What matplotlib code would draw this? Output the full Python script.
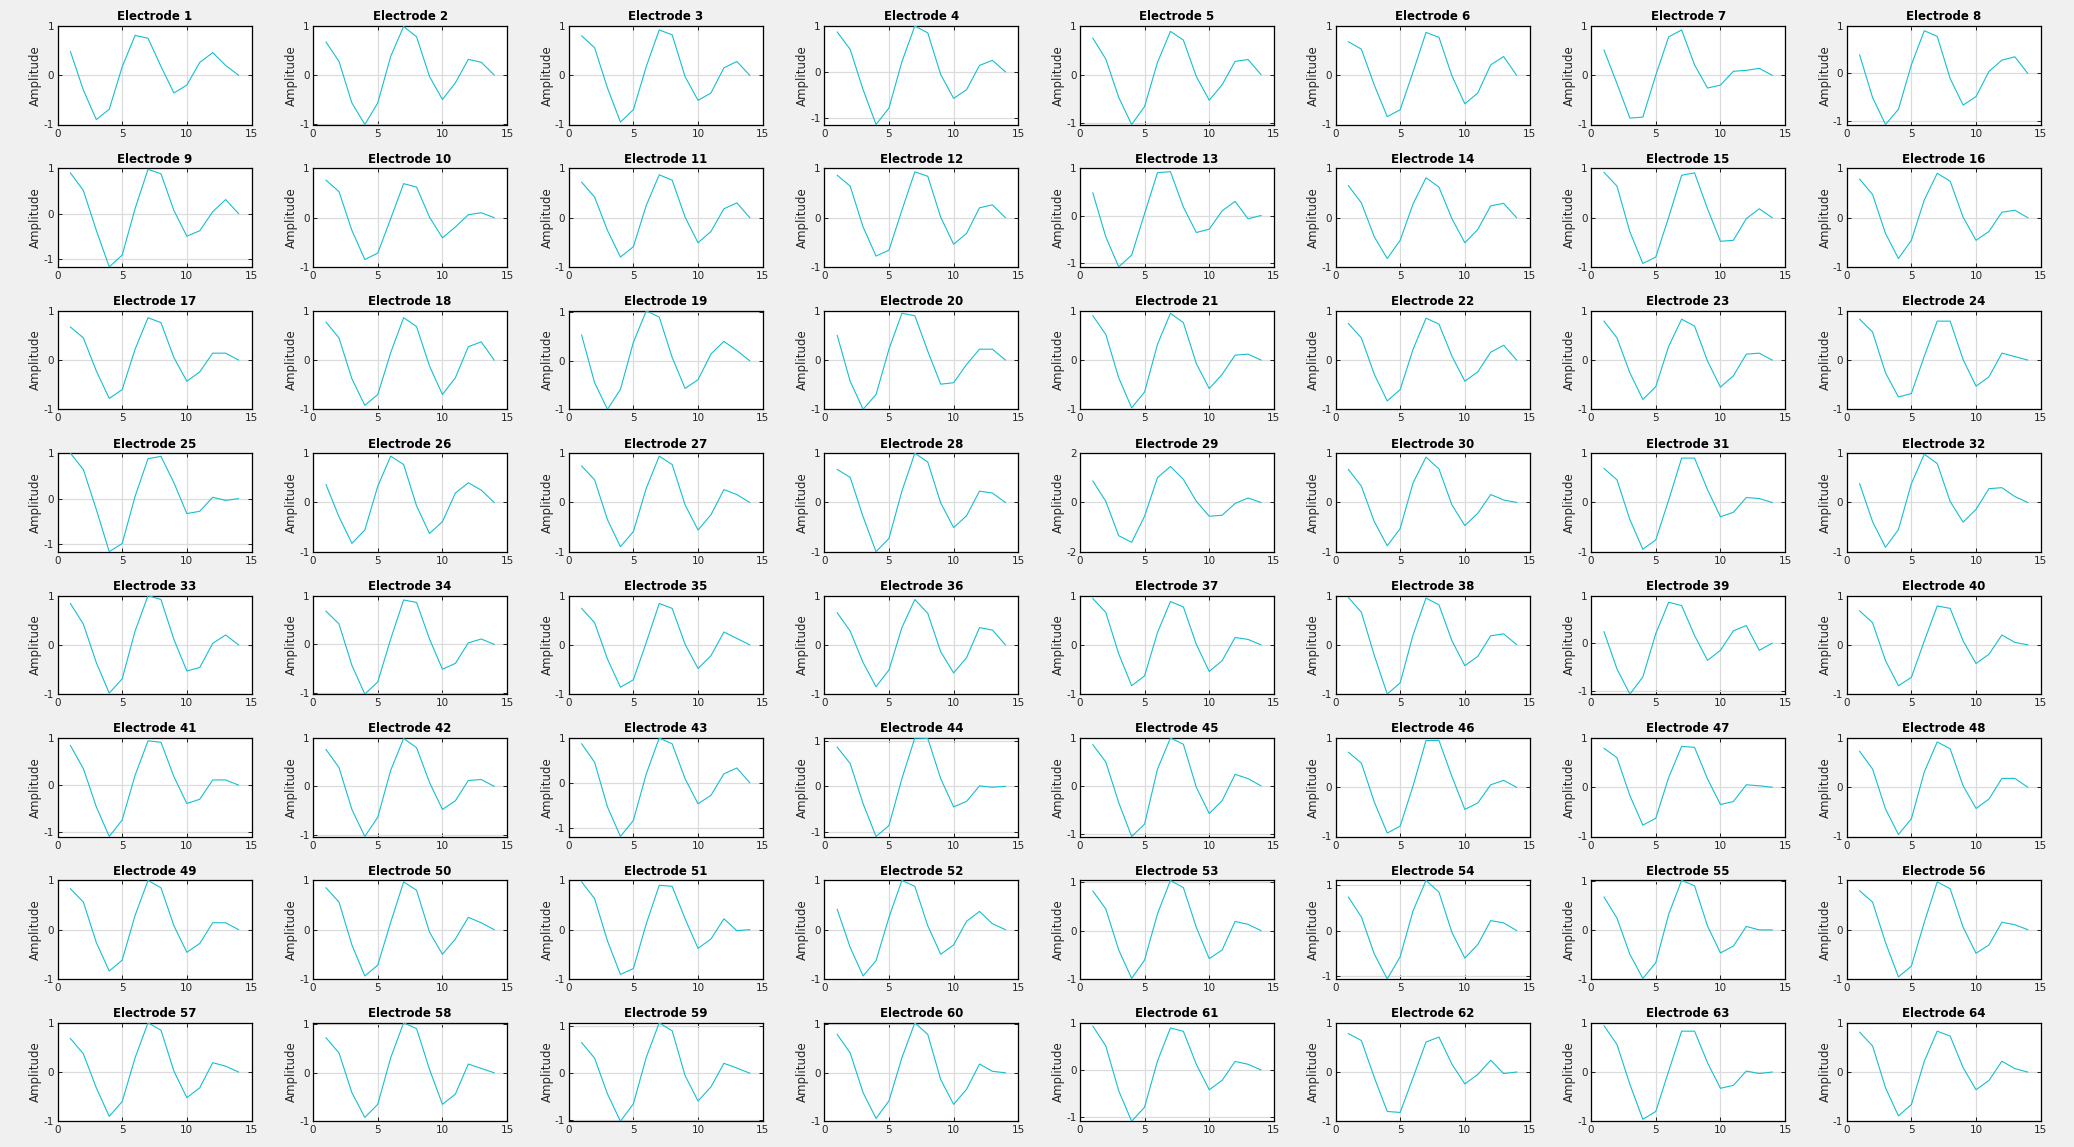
import numpy as np
import matplotlib
matplotlib.use("Agg")
import matplotlib.pyplot as plt

plt.rcParams['font.family'] = ['DejaVu Sans']
plt.rcParams['axes.unicode_minus'] = False

samples = list(range(1, 15))

e01 = [0.48, -0.30, -0.90, -0.69, 0.17, 0.81, 0.75, 0.18, -0.36, -0.20, 0.26, 0.46, 0.20, 0.00]
e02 = [0.67, 0.28, -0.57, -1.01, -0.57, 0.38, 0.99, 0.78, -0.03, -0.50, -0.16, 0.32, 0.26, 0.00]
e03 = [0.80, 0.56, -0.26, -0.95, -0.70, 0.18, 0.92, 0.82, -0.03, -0.51, -0.36, 0.15, 0.28, 0.00]
e04 = [0.87, 0.49, -0.39, -1.15, -0.79, 0.22, 1.00, 0.85, -0.06, -0.58, -0.39, 0.14, 0.25, 0.00]
e05 = [0.75, 0.32, -0.47, -1.03, -0.66, 0.25, 0.89, 0.71, -0.04, -0.53, -0.21, 0.27, 0.31, 0.00]
e06 = [0.68, 0.53, -0.20, -0.84, -0.70, 0.07, 0.87, 0.77, -0.01, -0.58, -0.36, 0.21, 0.38, 0.00]
e07 = [0.51, -0.17, -0.87, -0.85, 0.00, 0.78, 0.92, 0.21, -0.26, -0.20, 0.08, 0.10, 0.14, 0.00]
e08 = [0.39, -0.51, -1.08, -0.76, 0.18, 0.90, 0.78, -0.11, -0.67, -0.49, 0.04, 0.28, 0.35, 0.00]
e09 = [0.90, 0.51, -0.37, -1.18, -0.92, 0.11, 0.98, 0.88, 0.07, -0.50, -0.38, 0.04, 0.31, 0.00]
e10 = [0.76, 0.53, -0.26, -0.85, -0.72, -0.02, 0.69, 0.62, 0.01, -0.41, -0.19, 0.06, 0.10, 0.00]
e11 = [0.72, 0.42, -0.26, -0.80, -0.59, 0.25, 0.87, 0.76, 0.01, -0.51, -0.28, 0.18, 0.30, 0.00]
e12 = [0.86, 0.64, -0.19, -0.78, -0.66, 0.15, 0.93, 0.84, 0.01, -0.54, -0.32, 0.20, 0.26, 0.00]
e13 = [0.48, -0.45, -1.09, -0.84, 0.04, 0.91, 0.93, 0.18, -0.36, -0.29, 0.10, 0.30, -0.07, 0.00]
e14 = [0.65, 0.30, -0.39, -0.83, -0.46, 0.28, 0.81, 0.62, -0.02, -0.51, -0.24, 0.24, 0.29, 0.00]
e15 = [0.92, 0.64, -0.29, -0.93, -0.80, 0.01, 0.86, 0.91, 0.18, -0.48, -0.46, -0.02, 0.18, 0.00]
e16 = [0.78, 0.47, -0.32, -0.83, -0.46, 0.36, 0.90, 0.74, 0.01, -0.46, -0.28, 0.11, 0.15, 0.00]
e17 = [0.67, 0.45, -0.22, -0.78, -0.60, 0.22, 0.86, 0.76, 0.05, -0.43, -0.24, 0.14, 0.14, 0.00]
e18 = [0.77, 0.45, -0.38, -0.92, -0.70, 0.15, 0.86, 0.68, -0.12, -0.70, -0.36, 0.27, 0.37, 0.00]
e19 = [0.53, -0.45, -1.00, -0.59, 0.38, 1.03, 0.90, 0.07, -0.57, -0.39, 0.14, 0.40, 0.21, 0.00]
e20 = [0.50, -0.43, -1.00, -0.70, 0.22, 0.95, 0.90, 0.18, -0.49, -0.46, -0.09, 0.22, 0.22, 0.00]
e21 = [0.90, 0.52, -0.36, -0.97, -0.65, 0.32, 0.95, 0.76, -0.07, -0.58, -0.29, 0.10, 0.12, 0.00]
e22 = [0.74, 0.45, -0.29, -0.83, -0.60, 0.22, 0.85, 0.73, 0.08, -0.43, -0.24, 0.16, 0.30, 0.00]
e23 = [0.79, 0.45, -0.26, -0.80, -0.54, 0.28, 0.83, 0.69, -0.02, -0.55, -0.32, 0.12, 0.14, 0.00]
e24 = [0.83, 0.57, -0.26, -0.75, -0.68, 0.08, 0.79, 0.79, 0.01, -0.53, -0.34, 0.14, 0.07, 0.00]
e25 = [1.00, 0.64, -0.24, -1.17, -0.99, 0.05, 0.88, 0.93, 0.35, -0.33, -0.28, 0.03, -0.04, 0.00]
e26 = [0.36, -0.29, -0.83, -0.56, 0.33, 0.94, 0.77, -0.07, -0.63, -0.39, 0.19, 0.40, 0.25, 0.00]
e27 = [0.74, 0.46, -0.35, -0.90, -0.59, 0.29, 0.94, 0.77, -0.05, -0.56, -0.25, 0.26, 0.16, 0.00]
e28 = [0.67, 0.51, -0.29, -1.00, -0.73, 0.23, 1.00, 0.82, -0.01, -0.51, -0.27, 0.23, 0.19, 0.00]
e29 = [0.87, 0.05, -1.35, -1.62, -0.56, 1.01, 1.46, 0.94, 0.05, -0.56, -0.52, -0.04, 0.18, 0.00]
e30 = [0.67, 0.33, -0.39, -0.88, -0.53, 0.40, 0.92, 0.68, -0.05, -0.47, -0.22, 0.16, 0.05, 0.00]
e31 = [0.69, 0.46, -0.35, -0.95, -0.76, 0.05, 0.90, 0.90, 0.26, -0.29, -0.20, 0.10, 0.08, 0.00]
e32 = [0.38, -0.39, -0.91, -0.55, 0.38, 0.98, 0.79, 0.02, -0.40, -0.14, 0.28, 0.30, 0.12, 0.00]
e33 = [0.84, 0.42, -0.36, -0.98, -0.69, 0.28, 1.00, 0.92, 0.11, -0.53, -0.46, 0.03, 0.20, 0.00]
e34 = [0.68, 0.42, -0.43, -1.02, -0.77, 0.11, 0.91, 0.86, 0.11, -0.51, -0.39, 0.03, 0.11, 0.00]
e35 = [0.74, 0.45, -0.29, -0.86, -0.71, 0.05, 0.84, 0.74, 0.01, -0.48, -0.22, 0.26, 0.13, 0.00]
e36 = [0.65, 0.28, -0.36, -0.85, -0.51, 0.35, 0.92, 0.64, -0.14, -0.57, -0.26, 0.35, 0.30, 0.00]
e37 = [0.94, 0.66, -0.18, -0.83, -0.63, 0.25, 0.88, 0.77, 0.01, -0.54, -0.32, 0.15, 0.11, 0.00]
e38 = [0.96, 0.66, -0.22, -1.01, -0.78, 0.20, 0.95, 0.81, 0.08, -0.43, -0.24, 0.18, 0.22, 0.00]
e39 = [0.24, -0.54, -1.07, -0.71, 0.20, 0.86, 0.79, 0.16, -0.36, -0.15, 0.26, 0.37, -0.15, 0.00]
e40 = [0.69, 0.45, -0.32, -0.83, -0.66, 0.08, 0.79, 0.74, 0.08, -0.38, -0.19, 0.20, 0.05, 0.00]
e41 = [0.84, 0.35, -0.46, -1.09, -0.74, 0.21, 0.94, 0.91, 0.18, -0.39, -0.30, 0.11, 0.11, 0.00]
e42 = [0.76, 0.39, -0.48, -1.04, -0.64, 0.33, 0.99, 0.80, 0.08, -0.48, -0.30, 0.12, 0.14, 0.00]
e43 = [0.87, 0.46, -0.54, -1.20, -0.84, 0.20, 1.00, 0.87, 0.09, -0.47, -0.28, 0.20, 0.33, 0.00]
e44 = [0.86, 0.50, -0.38, -1.10, -0.86, 0.17, 1.06, 1.05, 0.17, -0.45, -0.33, 0.01, -0.02, 0.00]
e45 = [0.86, 0.50, -0.35, -1.06, -0.80, 0.35, 1.00, 0.87, -0.03, -0.58, -0.31, 0.24, 0.15, 0.00]
e46 = [0.71, 0.49, -0.30, -0.93, -0.79, 0.03, 0.95, 0.95, 0.22, -0.45, -0.32, 0.05, 0.14, 0.00]
e47 = [0.79, 0.60, -0.17, -0.77, -0.63, 0.20, 0.83, 0.81, 0.17, -0.35, -0.29, 0.05, 0.03, 0.00]
e48 = [0.73, 0.37, -0.44, -0.96, -0.64, 0.31, 0.92, 0.78, 0.03, -0.43, -0.24, 0.18, 0.18, 0.00]
e49 = [0.83, 0.56, -0.26, -0.84, -0.62, 0.29, 1.00, 0.85, 0.08, -0.46, -0.28, 0.14, 0.14, 0.00]
e50 = [0.85, 0.56, -0.31, -0.94, -0.72, 0.15, 0.97, 0.80, -0.05, -0.50, -0.19, 0.25, 0.14, 0.00]
e51 = [0.97, 0.63, -0.23, -0.91, -0.79, 0.12, 0.90, 0.88, 0.22, -0.38, -0.19, 0.22, -0.02, 0.00]
e52 = [0.41, -0.36, -0.94, -0.63, 0.25, 1.00, 0.88, 0.08, -0.50, -0.31, 0.17, 0.37, 0.12, 0.00]
e53 = [0.82, 0.45, -0.40, -0.99, -0.61, 0.35, 1.04, 0.89, 0.07, -0.58, -0.40, 0.19, 0.13, 0.00]
e54 = [0.74, 0.30, -0.52, -1.07, -0.58, 0.44, 1.11, 0.85, -0.04, -0.61, -0.31, 0.22, 0.17, 0.00]
e55 = [0.67, 0.24, -0.50, -0.99, -0.67, 0.32, 1.01, 0.90, 0.08, -0.47, -0.33, 0.07, 0.00, 0.00]
e56 = [0.79, 0.56, -0.26, -0.96, -0.74, 0.15, 0.97, 0.83, 0.05, -0.48, -0.31, 0.15, 0.10, 0.00]
e57 = [0.68, 0.37, -0.32, -0.90, -0.60, 0.29, 1.00, 0.85, 0.02, -0.52, -0.32, 0.19, 0.12, 0.00]
e58 = [0.72, 0.41, -0.41, -0.92, -0.65, 0.31, 1.03, 0.91, 0.07, -0.65, -0.44, 0.18, 0.09, 0.00]
e59 = [0.65, 0.32, -0.44, -1.02, -0.65, 0.34, 1.07, 0.90, -0.05, -0.59, -0.29, 0.21, 0.11, 0.00]
e60 = [0.79, 0.41, -0.41, -0.94, -0.58, 0.31, 1.03, 0.79, -0.14, -0.65, -0.34, 0.18, 0.03, 0.00]
e61 = [0.93, 0.51, -0.44, -1.09, -0.79, 0.19, 0.89, 0.82, 0.12, -0.42, -0.22, 0.18, 0.12, 0.00]
e62 = [0.78, 0.64, -0.11, -0.80, -0.82, -0.11, 0.61, 0.71, 0.16, -0.24, -0.05, 0.24, -0.03, 0.00]
e63 = [0.94, 0.56, -0.25, -0.96, -0.80, 0.02, 0.83, 0.83, 0.19, -0.33, -0.27, 0.02, -0.03, 0.00]
e64 = [0.81, 0.53, -0.32, -0.89, -0.66, 0.22, 0.83, 0.73, 0.09, -0.36, -0.17, 0.22, 0.07, 0.00]

electrodes = [e01, e02, e03, e04, e05, e06, e07, e08, e09, e10, e11, e12, e13, e14, e15, e16,
              e17, e18, e19, e20, e21, e22, e23, e24, e25, e26, e27, e28, e29, e30, e31, e32,
              e33, e34, e35, e36, e37, e38, e39, e40, e41, e42, e43, e44, e45, e46, e47, e48,
              e49, e50, e51, e52, e53, e54, e55, e56, e57, e58, e59, e60, e61, e62, e63, e64]
titles = [f"Electrode {i}" for i in range(1, 65)]
x_ticks = [0, 5, 10, 15]

W, H = 2074, 1147
fig = plt.figure(figsize=(W / 100, H / 100), dpi=100)
fig.patch.set_facecolor('#f0f0f0')

ncols, nrows = 8, 8
left0, top0 = 57.5, 26.0
ax_w, ax_h = 194.0, 98.5
pitch_x, pitch_y = 255.6, 142.4

line_color = '#17becf'
grid_color = '#dcdcdc'
text_color = '#262626'

for k, (vals, title) in enumerate(zip(electrodes, titles)):
    r, c = divmod(k, ncols)
    lx = left0 + c * pitch_x
    ty = top0 + r * pitch_y
    ax = fig.add_axes([lx / W, 1 - (ty + ax_h) / H, ax_w / W, ax_h / H])
    ax.set_facecolor('white')
    v = np.array(vals)
    amax = np.max(np.abs(v))
    if amax > 1.3:
        lim = float(np.ceil(amax))
        lo, hi = -lim, lim
        yt = [-lim, 0, lim]
    else:
        lo, hi = min(-1.0, v.min()), max(1.0, v.max())
        yt = [-1, 0, 1]
    ax.plot(samples, v, color=line_color, lw=0.8, zorder=3)
    ax.set_xlim(0, 15)
    ax.set_ylim(lo, hi)
    ax.set_xticks(x_ticks)
    ax.set_yticks(yt)
    ax.set_yticklabels([f"{int(t)}" for t in yt])
    ax.grid(True, color=grid_color, lw=0.9, zorder=0)
    ax.set_axisbelow(True)
    ax.tick_params(direction='in', length=3, width=0.6, top=True, right=True,
                   labelsize=7.5, colors='black', labelcolor=text_color)
    ax.tick_params(axis='x', pad=3)
    ax.tick_params(axis='y', pad=2.5)
    for s in ax.spines.values():
        s.set_color('black')
        s.set_linewidth(0.9)
    ax.set_title(title, fontsize=8.5, fontweight='bold', pad=4, color='black')
    ax.set_ylabel('Amplitude', fontsize=8.5, labelpad=1, color=text_color)

fig.savefig('out.png', dpi=100, facecolor=fig.get_facecolor())
